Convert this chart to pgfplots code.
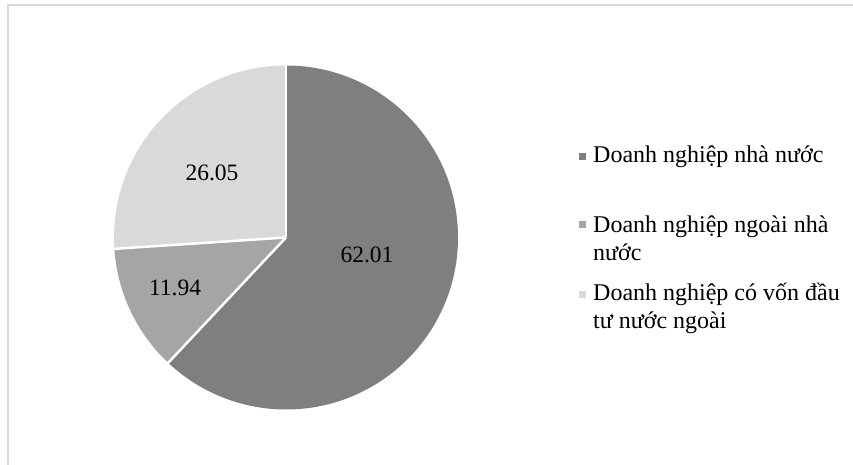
\documentclass[border=0pt]{standalone}
\usepackage{pgfplots}
\pgfplotsset{compat=1.18}
\usepackage{pgfplotstable}
\usepackage{fontspec}
\setmainfont{Liberation Serif}
\definecolor{cA}{HTML}{7F7F7F}
\definecolor{cB}{HTML}{A5A5A5}
\definecolor{cC}{HTML}{D9D9D9}
\pgfplotstableread{
name value
A 62.01
B 11.94
C 26.05
}\piedata
\begin{document}
\begin{tikzpicture}[x=1pt,y=1pt]
\pgfplotstablegetelem{0}{value}\of\piedata \let\va\pgfplotsretval
\pgfplotstablegetelem{1}{value}\of\piedata \let\vb\pgfplotsretval
\pgfplotstablegetelem{2}{value}\of\piedata \let\vc\pgfplotsretval
\pgfmathsetmacro{\aA}{90}
\pgfmathsetmacro{\aB}{90-3.6*\va}
\pgfmathsetmacro{\aC}{\aB-3.6*\vb}
\pgfmathsetmacro{\aD}{\aC-3.6*\vc}
\useasboundingbox (0,0) rectangle (853,465);
\begin{axis}[at={(0,0)},anchor=origin,scale only axis,width=853pt,height=465pt,
  xmin=0,xmax=853,ymin=0,ymax=465,hide axis,clip=false]
\fill[cA] (axis cs:286,227.5) -- ++(\aA:172pt) arc[start angle=\aA,end angle=\aB,radius=172pt] -- cycle;
\fill[cB] (axis cs:286,227.5) -- ++(\aB:172pt) arc[start angle=\aB,end angle=\aC,radius=172pt] -- cycle;
\fill[cC] (axis cs:286,227.5) -- ++(\aC:172pt) arc[start angle=\aC,end angle=\aD,radius=172pt] -- cycle;
\draw[white,line width=2.5pt] (axis cs:286,227.5) -- ++(\aA:173pt);
\draw[white,line width=2.5pt] (axis cs:286,227.5) -- ++(\aB:173pt);
\draw[white,line width=2.5pt] (axis cs:286,227.5) -- ++(\aC:173pt);
\node[font=\fontsize{23.5}{28}\selectfont] at (axis cs:367,210) {\pgfmathprintnumber[fixed,precision=2,fixed zerofill,assume math mode=true]{\va}};
\node[font=\fontsize{23.5}{28}\selectfont] at (axis cs:175,177) {\pgfmathprintnumber[fixed,precision=2,fixed zerofill,assume math mode=true]{\vb}};
\node[font=\fontsize{23.5}{28}\selectfont] at (axis cs:212,292) {\pgfmathprintnumber[fixed,precision=2,fixed zerofill,assume math mode=true]{\vc}};
\fill[cA] (axis cs:579,305) rectangle (axis cs:586,312);
\fill[cB] (axis cs:579,237) rectangle (axis cs:586,244);
\fill[cC] (axis cs:579,167) rectangle (axis cs:586,174);
\tikzset{lg/.style={anchor=base west,inner sep=0pt,font=\fontsize{24}{29}\selectfont}}
\node[lg] at (axis cs:593,302) {Doanh nghiệp nhà nước};
\node[lg] at (axis cs:593,232) {Doanh nghiệp ngoài nhà};
\node[lg] at (axis cs:593,204) {nước};
\node[lg] at (axis cs:593,164) {Doanh nghiệp có vốn đầu};
\node[lg] at (axis cs:593,136) {tư nước ngoài};
\end{axis}
\draw[cC,line width=1.5pt] (8,-5) -- (8,460) -- (860,460);
\end{tikzpicture}
\end{document}
